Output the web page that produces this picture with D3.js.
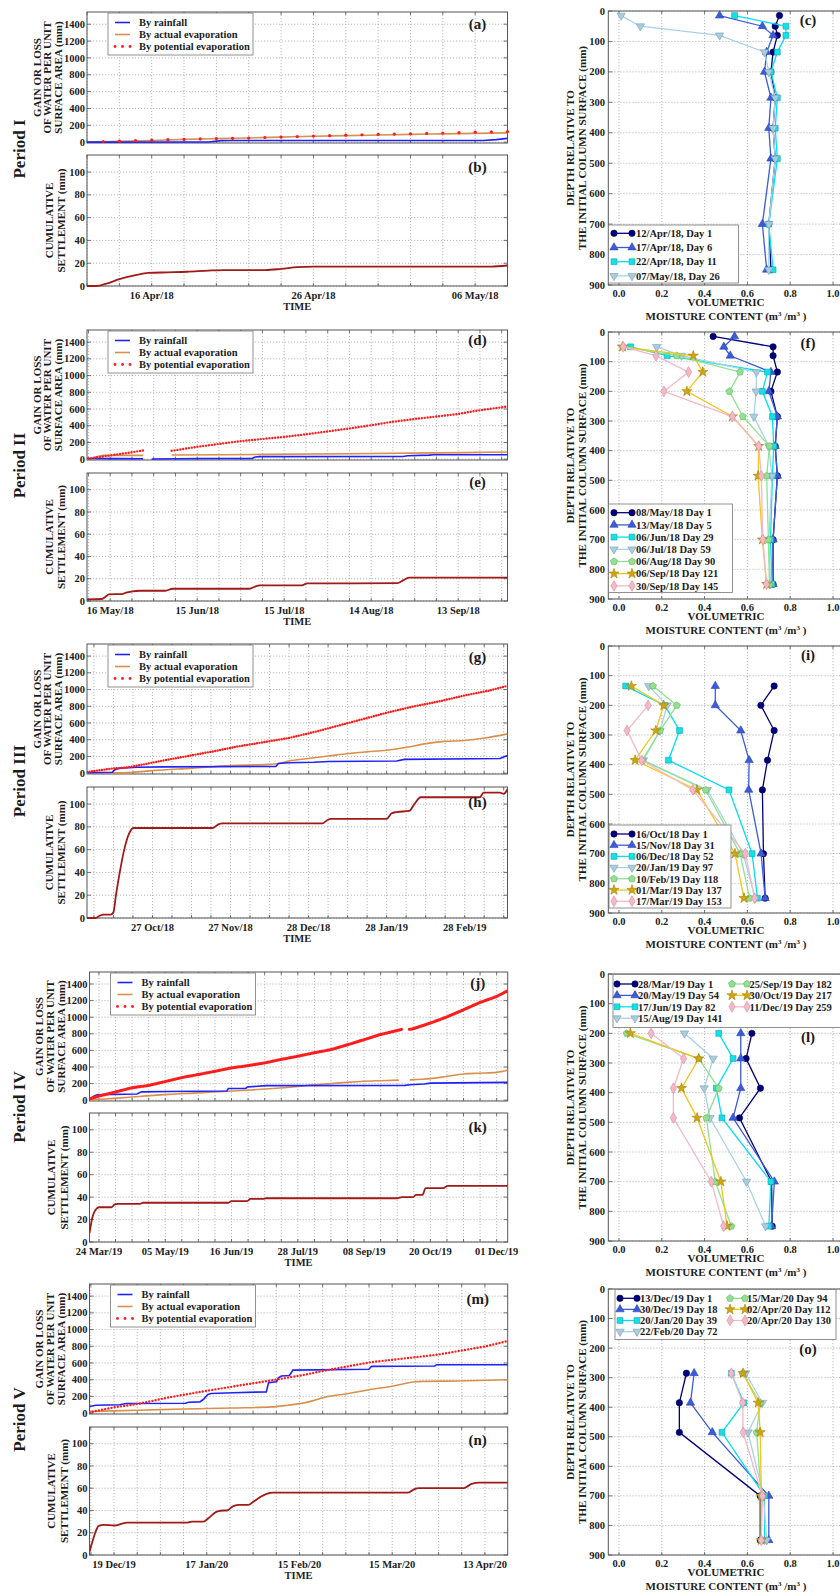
<!DOCTYPE html>
<html>
<head>
<meta charset="utf-8">
<script src="https://cdn.jsdelivr.net/npm/d3@7"></script>
<style>
  body { margin: 0; background: #fff; }
  text { font-family: "Liberation Serif", "Times New Roman", serif; font-weight: bold; fill: #1c1c1c; }
  .grid { stroke: #a8a8a8; stroke-width: 0.8; stroke-dasharray: 1.2 1.8; fill: none; }
  .frame { stroke: #555; stroke-width: 1; fill: none; }
  .tick { stroke: #555; stroke-width: 0.8; }
</style>
</head>
<body>
<svg id="fig" width="840" height="1595"></svg>
<script>
// ---------- Water balance & settlement: shared axes ----------
const gainDomain = [-10, 1545];
const gainTicks = [0, 200, 400, 600, 800, 1000, 1200, 1400];
const settleDomain = [0, 115];
const settleTicks = [0, 20, 40, 60, 80, 100];
const gainLegendLabels = ["By rainfall", "By actual evaporation", "By potential evaporation"];

// Series values are [day from start of window, mm]; null marks a gap in the record.
// ---------- Period I ----------
const p1Start = "2018-04-12", p1End = "2018-05-08";
const p1Ticks = ["2018-04-16", "2018-04-26", "2018-05-06"];
const p1TickLabels = ["16 Apr/18", "26 Apr/18", "06 May/18"];
const p1Rain = [[0,0],[7.5,2],[8.3,18],[9,20],[24.5,20],[25.3,30],[26,45]];
const p1Actual = [[0,0],[2,10],[4,20],[6,33],[8,42],[10,50],[12,60],[14,70],[16,78],[18,85],[20,92],[22,98],[24,104],[26,110]];
const p1Potential = [[1,8],[2,12],[3,18],[4,24],[5,30],[6,34],[7,38],[8,42],[9,45],[10,49],[11,55],[12,60],[13,66],[14,72],[15,77],[16,83],[17,88],[18,92],[19,96],[20,100],[21,104],[22,108],[23,113],[24,118],[25,122],[26,126]];
const p1Settle = [[0,0],[0.6,0],[1.2,2],[2,6],[3,9.5],[3.8,11.5],[5,12],[6.2,12.5],[7.5,13.5],[8.5,14],[11,14],[12,15],[13,16.5],[14,17],[25,17],[26,18]];

// ---------- Period II ----------
const p2Start = "2018-05-08", p2End = "2018-09-30";
const p2Ticks = ["2018-05-16", "2018-06-15", "2018-07-15", "2018-08-14", "2018-09-13"];
const p2TickLabels = ["16 May/18", "15 Jun/18", "15 Jul/18", "14 Aug/18", "13 Sep/18"];
const p2Rain = [[0,8],[10,6],[19.4,5],[20,null],[22.3,2],[40,8],[57,10],[58,25],[59.5,30],[109,32],[110.5,40],[118,48],[119.5,52],[145,52]];
const p2Actual = [[0,0],[2,15],[4,35],[6,45],[19.4,45],[20,null],[29.2,50],[60,57],[90,65],[120,75],[145,85]];
const p2Potential = [[0.5,8],[5,30],[10,55],[15,80],[19.4,105],[20,null],[29.2,100],[37.5,145],[45,180],[52.7,215],[60,240],[67.6,265],[75,295],[82.5,330],[90,365],[97.7,405],[105,445],[112.8,480],[120.4,510],[127.9,540],[135.4,585],[145,630]];
const p2Settle = [[0,1.5],[5,1.8],[6.5,4],[7.5,6],[12,6.2],[13.5,7.5],[15.5,8.5],[18,9.2],[27,9.2],[29.5,11],[56,11],[58,13],[59.5,14],[74,14],[76,15.8],[107,16],[109,18.5],[111,21],[145,21]];

// ---------- Period III ----------
const p3Start = "2018-10-01", p3End = "2019-03-17";
const p3Ticks = ["2018-10-27", "2018-11-27", "2018-12-28", "2019-01-28", "2019-02-28"];
const p3TickLabels = ["27 Oct/18", "27 Nov/18", "28 Dec/18", "28 Jan/19", "28 Feb/19"];
const p3Rain = [[0,5],[10,10],[11,40],[13,60],[20,70],[30,75],[75,80],[76,115],[80,125],[90,130],[96,140],[123,145],[126,165],[164,175],[167,210]];
const p3Actual = [[0,0],[10,3],[18,10],[26,30],[42,60],[57,90],[72,105],[76,115],[80,145],[88,175],[96,205],[104,235],[111,255],[119,275],[127,310],[134,350],[142,380],[150,390],[158,420],[167,470]];
const p3Potential = [[0,15],[5,35],[10,55],[15,65],[20,90],[30,150],[40,205],[50,260],[60,320],[70,370],[80,420],[90,490],[100,570],[110,650],[120,730],[130,800],[140,860],[150,930],[160,990],[167,1045]];
const p3Settle = [[0,0],[3.5,0],[5,2],[6.5,3],[9.5,3],[10.5,5],[11.5,20],[13,40],[15,62],[16.7,74],[18.4,79],[50,79],[52,82],[54,83],[93.5,83],[95.5,86],[97,87],[119,87],[121,92],[123,93],[128,94],[130,100],[132.5,106],[156,106],[157.5,110],[164,110],[165.5,109],[167,113]];

// ---------- Period IV ----------
const p4Start = "2019-03-18", p4End = "2019-12-08";
const p4Ticks = ["2019-03-24", "2019-05-05", "2019-06-16", "2019-07-28", "2019-09-08", "2019-10-20", "2019-12-01"];
const p4TickLabels = ["24 Mar/19", "05 May/19", "16 Jun/19", "28 Jul/19", "08 Sep/19", "20 Oct/19", "01 Dec/19"];
const p4Rain = [[0,15],[3,50],[5,65],[15,70],[30,75],[33,100],[50,105],[87,110],[88,140],[99,142],[100,158],[112,175],[200,178],[203,185],[212,195],[216,205],[265,215]];
const p4Actual = [[0,0],[10,15],[25,35],[38,55],[50,70],[69,88],[85,105],[100,120],[116,140],[132,165],[142,185],[153,200],[163,215],[174,228],[184,235],[196,242],[198,null],[203,245],[210,252],[216,260],[226,285],[237,315],[247,325],[258,335],[265,360]];
const p4Potential = [[0,15],[6,50],[16.6,100],[27,150],[38,180],[48,225],[59,275],[69,310],[80,350],[90,390],[100,415],[111,450],[121,490],[132,530],[142,570],[153,610],[163,665],[174,730],[184,790],[195,840],[198,855],[200,null],[202.7,855],[205,860],[216,930],[226,1000],[237,1090],[247,1175],[258,1250],[265,1320]];
const p4Settle = [[0,8],[0.5,12],[1.5,20],[2.5,25],[4,29],[6,31],[14,31],[16,33.5],[18,34],[32,34],[34,35],[88,35],[90,36.5],[100,36.5],[102,38.5],[110,38.5],[112,39],[195,39],[198,40],[205,40],[207,42],[211,42],[213,48],[224,48],[227,50],[265,50]];

// ---------- Period V ----------
const p5Start = "2019-12-11T08:00", p5End = "2020-04-20T03:00";
const p5Ticks = ["2019-12-19", "2020-01-17", "2020-02-15", "2020-03-15", "2020-04-13"];
const p5TickLabels = ["19 Dec/19", "17 Jan/20", "15 Feb/20", "15 Mar/20", "13 Apr/20"];
const p5Rain = [[0,80],[2,95],[9.5,100],[11.5,115],[30,118],[31,130],[34.5,135],[35.5,160],[37,225],[38,235],[45,245],[55.3,255],[56,365],[58.5,375],[59,420],[60,445],[62.5,450],[63.2,490],[63.6,515],[87.4,525],[88.2,560],[108,565],[108.6,580],[131,580]];
const p5Actual = [[0,20],[15,35],[30,50],[45,62],[57,75],[62,95],[66,115],[70,150],[73,185],[80,230],[87.5,280],[95,325],[102,375],[104,380],[115,385],[131,400]];
const p5Potential = [[0,10],[7.7,70],[15,110],[25,190],[37,270],[50,350],[66,450],[73,505],[88,610],[95,640],[109,700],[124,800],[131,865]];
const p5Settle = [[0,3],[0.7,10],[1.8,20],[2.8,26],[4.4,27],[7.8,26.5],[10,28],[11.7,29],[30.4,29],[32,30],[35.6,30],[37.2,33],[39.8,39],[42,40],[43,40],[45,44],[47,45],[49.7,45],[51.3,48],[53.4,52],[55.4,55],[57.5,56],[99.5,56],[101.5,59],[103,60],[117,60],[119.5,64],[122,65],[131,65]];

// ---------- Moisture profiles ----------
const moistDomain = [-0.05, 1.05];
const moistTicks = [0, 0.2, 0.4, 0.6, 0.8, 1.0];
const depthDomain = [0, 900];
const depthTicks = [0, 100, 200, 300, 400, 500, 600, 700, 800, 900];

const cDepths = [15, 50, 80, 135, 200, 285, 385, 485, 700, 850];
const cLabels = ["12/Apr/18, Day 1", "17/Apr/18, Day 6", "22/Apr/18, Day 11", "07/May/18, Day 26"];
const c1 = [0.75, 0.73, 0.74, 0.72, 0.71, 0.73, 0.72, 0.73, 0.70, 0.71];
const c2 = [0.47, 0.67, 0.72, 0.69, 0.68, 0.71, 0.70, 0.71, 0.67, 0.69];
const c3 = [0.54, 0.78, 0.78, 0.74, 0.71, 0.74, 0.73, 0.74, 0.70, 0.72];
const c4 = [0.01, 0.10, 0.47, 0.68, 0.70, 0.73, 0.72, 0.73, 0.70, 0.70];

const fDepths = [15, 50, 80, 135, 200, 285, 385, 485, 700, 850];
const fLabels = ["08/May/18 Day 1", "13/May/18 Day 5", "06/Jun/18 Day 29", "06/Jul/18 Day 59", "06/Aug/18 Day 90", "06/Sep/18 Day 121", "30/Sep/18 Day 145"];
const f1 = [0.44, 0.72, 0.72, 0.74, 0.71, 0.74, 0.73, 0.74, 0.72, 0.72];
const f2 = [0.54, 0.49, 0.52, 0.71, 0.70, 0.74, 0.73, 0.74, 0.72, 0.72];
const f3 = [null, 0.054, 0.225, 0.694, 0.67, 0.717, 0.723, 0.717, 0.708, 0.715];
const f4 = [null, 0.176, 0.292, 0.642, 0.641, 0.63, 0.70, 0.715, 0.70, 0.708];
const f5 = [null, 0.02, 0.27, 0.566, 0.516, 0.579, 0.703, 0.69, 0.698, 0.703];
const f6 = [null, 0.016, 0.347, 0.392, 0.317, 0.53, 0.653, 0.65, 0.67, 0.69];
const f7 = [null, 0.02, 0.173, 0.325, 0.21, 0.53, 0.653, 0.665, 0.672, 0.689];

const iDepths = [135, 200, 285, 385, 485, 700, 850];
const iLabels = ["16/Oct/18 Day 1", "15/Nov/18 Day 31", "06/Dec/18 Day 52", "20/Jan/19 Day 97", "10/Feb/19 Day 118", "01/Mar/19 Day 137", "17/Mar/19 Day 153"];
const i1 = [0.725, 0.663, 0.725, 0.694, 0.67, 0.675, 0.683];
const i2 = [0.45, 0.45, 0.569, 0.608, 0.606, 0.664, 0.683];
const i3 = [0.031, 0.214, 0.283, 0.231, 0.514, 0.622, 0.647];
const i4 = [0.139, 0.225, 0.192, 0.114, 0.413, 0.58, 0.636];
const i5 = [0.159, 0.27, 0.192, 0.109, 0.405, 0.566, 0.61];
const i6 = [0.058, 0.209, 0.172, 0.075, 0.364, 0.542, 0.584];
const i7 = [null, 0.136, 0.0375, 0.106, 0.345, 0.59, 0.634];

const lDepths = [200, 285, 385, 485, 700, 850];
const lLabels = ["28/Mar/19 Day 1", "20/May/19 Day 54", "17/Jun/19 Day 82", "15/Aug/19 Day 141", "25/Sep/19 Day 182", "30/Oct/19 Day 217", "11/Dec/19 Day 259"];
const l1 = [0.621, 0.594, 0.661, 0.563, 0.713, 0.716];
const l2 = [0.569, 0.569, 0.569, 0.533, 0.726, 0.713];
const l3 = [0.466, 0.533, 0.455, 0.481, 0.71, 0.70];
const l4 = [0.306, 0.44, 0.398, 0.425, 0.596, 0.685];
const l5 = [0.036, 0.373, 0.466, 0.408, 0.45, 0.525];
const l6 = [0.053, 0.373, 0.292, 0.365, 0.476, 0.505];
const l7 = [0.15, 0.302, 0.254, 0.254, 0.431, 0.489];

const oDepths = [285, 385, 485, 700, 850];
const oLabels = ["13/Dec/19 Day 1", "30/Dec/19 Day 18", "20/Jan/20 Day 39", "22/Feb/20 Day 72", "15/Mar/20 Day 94", "02/Apr/20 Day 112", "20/Apr/20 Day 130"];
const o1 = [0.315, 0.282, 0.282, 0.66, 0.66];
const o2 = [0.351, 0.334, 0.436, 0.70, 0.70];
const o3 = [0.525, 0.583, 0.481, 0.68, 0.68];
const o4 = [0.592, 0.67, 0.603, 0.675, 0.69];
const o5 = [0.577, 0.66, 0.643, 0.665, 0.665];
const o6 = [0.58, 0.65, 0.66, 0.665, 0.665];
const o7 = [0.525, 0.578, 0.58, 0.67, 0.665];

// ---------- Styling ----------
const rainColor = "#1f22ff", actualColor = "#d8904c", potColor = "#ff1c1c", settleColor = "#a01a1a";
const moistLine  = ["#00007a", "#3b5bd9", "#00e0ee", "#a7d3e6", "#8fe38f", "#f3c51a", "#f5b8c6"];
const moistFill  = ["#00007a", "#3b5bd9", "#14e0e6", "#a9cde0", "#92e092", "#cfa514", "#f5b8c6"];
const moistEdge  = ["#00005a", "#2c47b0", "#0aa8b5", "#7a9fb0", "#5fb35f", "#a88300", "#d0909f"];

const DAY = 864e5;
const dt = s => new Date(s.length === 10 ? s + "T00:00Z" : s + "Z");
const svg = d3.select("#fig");

// Figure layout: one row per period (left: time series, right: profiles)
const periods = [
  { name: "Period I",   start: p1Start, end: p1End, ticks: p1Ticks, tickLabels: p1TickLabels, gridDays: 2,
    rain: p1Rain, actual: p1Actual, potential: p1Potential, settle: p1Settle, letters: ["(a)", "(b)"], potDots: true,
    gTop: 12, gBot: 143, sTop: 155, sBot: 286, left: 87, right: 507.5, letterDy: [12, 12] },
  { name: "Period II",  start: p2Start, end: p2End, ticks: p2Ticks, tickLabels: p2TickLabels, gridDays: 7.5,
    rain: p2Rain, actual: p2Actual, potential: p2Potential, settle: p2Settle, letters: ["(d)", "(e)"], potGap: 2.9, potWidth: 2.4,
    gTop: 330, gBot: 460, sTop: 473, sBot: 601, left: 87, right: 507.5, letterDy: [10, 9] },
  { name: "Period III", start: p3Start, end: p3End, ticks: p3Ticks, tickLabels: p3TickLabels, gridDays: 7.75,
    rain: p3Rain, actual: p3Actual, potential: p3Potential, settle: p3Settle, letters: ["(g)", "(h)"], potGap: 2.5, potWidth: 2.4,
    gTop: 644, gBot: 774, sTop: 787, sBot: 918, left: 87, right: 507.5, letterDy: [13, 15] },
  { name: "Period IV",  start: p4Start, end: p4End, ticks: p4Ticks, tickLabels: p4TickLabels, gridDays: 10.5,
    rain: p4Rain, actual: p4Actual, potential: p4Potential, settle: p4Settle, letters: ["(j)", "(k)"], potGap: 1.6, potWidth: 3.2,
    gTop: 972, gBot: 1101, sTop: 1113, sBot: 1242, left: 89.5, right: 507.7, letterDy: [11, 14] },
  { name: "Period V",   start: p5Start, end: p5End, ticks: p5Ticks, tickLabels: p5TickLabels, gridDays: 7.25,
    rain: p5Rain, actual: p5Actual, potential: p5Potential, settle: p5Settle, letters: ["(m)", "(n)"], potGap: 3.2, potWidth: 2.4,
    gTop: 1284, gBot: 1414, sTop: 1427, sBot: 1555, left: 89.5, right: 507.7, letterDy: [15, 13] }
];

const profiles = [
  { depths: cDepths, series: [c1, c2, c3, c4], labels: cLabels, letter: "(c)", top: 11, bot: 285, letterY: 25,
    legend: { x: 608.5, y: 225, w: 130, h: 58, row0: 233.3, dy: 14.2, cols: [{ sx: 614, ex: 632, tx: 636, from: 0, to: 4 }] } },
  { depths: fDepths, series: [f1, f2, f3, f4, f5, f6, f7], labels: fLabels, letter: "(f)", top: 332, bot: 599, letterY: 348,
    legend: { x: 608.5, y: 504, w: 124, h: 88.5, row0: 512.7, dy: 12.2, cols: [{ sx: 614, ex: 632, tx: 636, from: 0, to: 7 }] } },
  { depths: iDepths, series: [i1, i2, i3, i4, i5, i6, i7], labels: iLabels, letter: "(i)", top: 646, bot: 913, letterY: 660,
    legend: { x: 609, y: 825, w: 122, h: 83, row0: 834, dy: 11.2, cols: [{ sx: 614, ex: 632, tx: 636, from: 0, to: 7 }] } },
  { depths: lDepths, series: [l1, l2, l3, l4, l5, l6, l7], labels: lLabels, letter: "(l)", top: 974, bot: 1241, letterY: 1042,
    legend: { x: 613, y: 974.5, w: 240, h: 53, row0: 984, dy: 11.4, cols: [{ sx: 617, ex: 635, tx: 638, from: 0, to: 4 }, { sx: 732, ex: 747, tx: 749.5, from: 4, to: 7 }] } },
  { depths: oDepths, series: [o1, o2, o3, o4, o5, o6, o7], labels: oLabels, letter: "(o)", top: 1289, bot: 1555, letterY: 1354,
    legend: { x: 615, y: 1289.5, w: 221, h: 50, row0: 1298.3, dy: 11.1, cols: [{ sx: 620, ex: 637, tx: 640, from: 0, to: 4 }, { sx: 730, ex: 745, tx: 747, from: 4, to: 7 }] } }
];

// ---------- helpers ----------
function label(g, x, y, txt, size, anchor = "middle", rotate = false) {
  const t = g.append("text").attr("font-size", size).attr("text-anchor", anchor);
  if (rotate) t.attr("transform", `translate(${x},${y}) rotate(-90)`).attr("dy", "0.35em");
  else t.attr("x", x).attr("y", y);
  return t.text(txt);
}

function gridDates(P) {
  const s = +dt(P.start), e = +dt(P.end), step = P.gridDays * DAY;
  let t = +dt(P.ticks[0]);
  while (t - step >= s - 1) t -= step;
  const out = [];
  for (; t <= e + 1; t += step) out.push(new Date(t));
  return out;
}

let clipN = 0;
function clipRect(x0, y0, x1, y1) {
  const id = "clip" + (clipN++);
  svg.append("clipPath").attr("id", id).append("rect")
    .attr("x", x0).attr("y", y0).attr("width", x1 - x0).attr("height", y1 - y0);
  return `url(#${id})`;
}

// Box with dotted grid and inward ticks
function frame(g, x0, x1, y0, y1, xs, ys, xGrid, yGrid) {
  g.append("g").selectAll("line").data(xGrid).join("line").attr("class", "grid")
    .attr("x1", d => xs(d)).attr("x2", d => xs(d)).attr("y1", y0).attr("y2", y1);
  g.append("g").selectAll("line").data(yGrid).join("line").attr("class", "grid")
    .attr("x1", x0).attr("x2", x1).attr("y1", d => ys(d)).attr("y2", d => ys(d));
  const tk = g.append("g");
  xGrid.forEach(d => {
    tk.append("line").attr("class", "tick").attr("x1", xs(d)).attr("x2", xs(d)).attr("y1", y1).attr("y2", y1 - 3);
    tk.append("line").attr("class", "tick").attr("x1", xs(d)).attr("x2", xs(d)).attr("y1", y0).attr("y2", y0 + 3);
  });
  yGrid.forEach(d => {
    tk.append("line").attr("class", "tick").attr("x1", x0).attr("x2", x0 + 4).attr("y1", ys(d)).attr("y2", ys(d));
    tk.append("line").attr("class", "tick").attr("x1", x1).attr("x2", x1 - 4).attr("y1", ys(d)).attr("y2", ys(d));
  });
  g.append("rect").attr("class", "frame").attr("x", x0).attr("y", y0).attr("width", x1 - x0).attr("height", y1 - y0);
}

// ---------- left column: water balance and settlement ----------
function drawPeriod(P) {
  const g = svg.append("g");
  const x = d3.scaleUtc().domain([dt(P.start), dt(P.end)]).range([P.left, P.right]);
  const at = d => new Date(+dt(P.start) + d * DAY);
  const grid = gridDates(P);
  const yG = d3.scaleLinear().domain(gainDomain).range([P.gBot, P.gTop]);
  const yS = d3.scaleLinear().domain(settleDomain).range([P.sBot, P.sTop]);

  frame(g, P.left, P.right, P.gTop, P.gBot, x, yG, grid, gainTicks);
  frame(g, P.left, P.right, P.sTop, P.sBot, x, yS, grid, settleTicks);

  const lineOf = (ys, curve) => d3.line().defined(d => d[1] !== null)
    .x(d => x(at(d[0]))).y(d => ys(d[1])).curve(curve);

  const gc = g.append("g").attr("clip-path", clipRect(P.left, P.gTop, P.right, P.gBot));
  gc.append("path").attr("d", lineOf(yG, d3.curveMonotoneX)(P.actual))
    .attr("fill", "none").attr("stroke", actualColor).attr("stroke-width", 1.6);
  gc.append("path").attr("d", lineOf(yG, d3.curveLinear)(P.rain))
    .attr("fill", "none").attr("stroke", rainColor).attr("stroke-width", 1.6);
  if (P.potDots) {
    g.append("g").selectAll("circle").data(P.potential).join("circle")
      .attr("cx", d => x(at(d[0]))).attr("cy", d => yG(d[1])).attr("r", 1.6).attr("fill", potColor);
  } else {
    gc.append("path").attr("d", lineOf(yG, d3.curveLinear)(P.potential))
      .attr("fill", "none").attr("stroke", potColor).attr("stroke-width", P.potWidth)
      .attr("stroke-linecap", "round").attr("stroke-dasharray", `0 ${P.potGap}`);
  }

  const sc = g.append("g").attr("clip-path", clipRect(P.left, P.sTop - 2, P.right, P.sBot + 1));
  sc.append("path").attr("d", lineOf(yS, d3.curveMonotoneX)(P.settle))
    .attr("fill", "none").attr("stroke", settleColor).attr("stroke-width", 1.8);

  // y tick labels
  gainTicks.forEach(v => label(g, P.left - 2, yG(v) + 3.6, String(v), 10.5, "end"));
  settleTicks.forEach(v => label(g, P.left - 2, yS(v) + 3.6, String(v), 10.5, "end"));
  // x tick labels
  P.ticks.forEach((d, k) => label(g, x(dt(d)), P.sBot + 12.5, P.tickLabels[k], 10.5));
  label(g, (P.left + P.right) / 2, P.sBot + 23.5, "TIME", 10.5);

  // y axis titles
  const gMid = (P.gTop + P.gBot) / 2, sMid = (P.sTop + P.sBot) / 2;
  ["GAIN OR LOSS", "OF WATER PER UNIT", "SURFACE AREA (mm)"].forEach((t, k) =>
    label(g, P.left - 50 + k * 10.6, gMid, t, 11, "middle", true));
  ["CUMULATIVE", "SETTLEMENT (mm)"].forEach((t, k) =>
    label(g, P.left - 38 + k * 12.5, sMid, t, 11, "middle", true));

  // period name
  label(g, 19, (P.gTop + P.sBot) / 2, P.name, 17, "middle", true);

  // panel letters
  label(g, P.right - 30, P.gTop + P.letterDy[0] + 5, P.letters[0], 15);
  label(g, P.right - 30, P.sTop + P.letterDy[1] + 5, P.letters[1], 15);

  // legend
  const lx = P.left + 21, ly = P.gTop + 1;
  const lg = g.append("g");
  lg.append("rect").attr("x", lx).attr("y", ly).attr("width", 145).attr("height", 42)
    .attr("fill", "#fff").attr("stroke", "#777").attr("stroke-width", 0.8);
  const rows = [ly + 9.5, ly + 21.5, ly + 33.5];
  lg.append("line").attr("x1", lx + 7).attr("x2", lx + 22).attr("y1", rows[0]).attr("y2", rows[0])
    .attr("stroke", rainColor).attr("stroke-width", 1.6);
  lg.append("line").attr("x1", lx + 7).attr("x2", lx + 22).attr("y1", rows[1]).attr("y2", rows[1])
    .attr("stroke", actualColor).attr("stroke-width", 1.6);
  [0, 7.5, 15].forEach(dx => lg.append("circle").attr("cx", lx + 7 + dx).attr("cy", rows[2]).attr("r", 1.4).attr("fill", potColor));
  gainLegendLabels.forEach((t, k) => label(lg, lx + 31, rows[k] + 3.6, t, 10.5, "start"));
}

// ---------- right column: moisture profiles ----------
const pentagon = {
  draw(ctx, size) {
    const r = Math.sqrt(size / 2.378);
    for (let k = 0; k < 5; k++) {
      const a = -Math.PI / 2 + k * 2 * Math.PI / 5;
      if (k) ctx.lineTo(r * Math.cos(a), r * Math.sin(a)); else ctx.moveTo(r * Math.cos(a), r * Math.sin(a));
    }
    ctx.closePath();
  }
};
const symbolTypes = [d3.symbolCircle, d3.symbolTriangle, d3.symbolSquare, d3.symbolTriangle, pentagon, d3.symbolStar, d3.symbolDiamond];
const symbolSizes = [32, 30, 34, 30, 32, 32, 34];
const markerPath = k => d3.symbol().type(symbolTypes[k]).size(symbolSizes[k])();
const markerRot = k => (k === 3 ? " rotate(180)" : "");

function marker(g, k, cx, cy) {
  g.append("path").attr("d", markerPath(k))
    .attr("transform", `translate(${cx},${cy})${markerRot(k)}`)
    .attr("fill", moistFill[k]).attr("stroke", moistEdge[k]).attr("stroke-width", 0.6);
}

function drawProfile(R) {
  const g = svg.append("g");
  const x = d3.scaleLinear().domain(moistDomain).range([608.3, 843.7]);
  const y = d3.scaleLinear().domain(depthDomain).range([R.top, R.bot]);
  frame(g, 608.3, 843.7, R.top, R.bot, x, y, moistTicks, depthTicks);

  R.series.forEach((vals, k) => {
    const pts = R.depths.map((d, j) => [vals[j], d]).filter(p => p[0] !== null);
    g.append("path").attr("d", d3.line().x(p => x(p[0])).y(p => y(p[1]))(pts))
      .attr("fill", "none").attr("stroke", moistLine[k]).attr("stroke-width", 1.3);
    pts.forEach(p => marker(g, k, x(p[0]), y(p[1])));
  });

  depthTicks.forEach(v => label(g, 605, y(v) + 3.6, String(v), 10.5, "end"));
  moistTicks.forEach(v => label(g, x(v), R.bot + 11.5, d3.format(".1f")(v), 10.5));
  label(g, x(0.5), R.bot + 21, "VOLUMETRIC", 11);
  const t = g.append("text").attr("x", x(0.5)).attr("y", R.bot + 35).attr("font-size", 11).attr("text-anchor", "middle");
  t.append("tspan").text("MOISTURE CONTENT (m");
  t.append("tspan").attr("font-size", 7).attr("dy", -4).text("3");
  t.append("tspan").attr("dy", 4).text(" /m");
  t.append("tspan").attr("font-size", 7).attr("dy", -4).text("3");
  t.append("tspan").attr("dy", 4).text(" )");

  const mid = (R.top + R.bot) / 2;
  label(g, 570, mid, "DEPTH RELATIVE TO", 11, "middle", true);
  label(g, 582, mid, "THE INITIAL COLUMN SURFACE (mm)", 11, "middle", true);
  label(g, 808, R.letterY, R.letter, 15);

  const L = R.legend;
  const lg = g.append("g");
  lg.append("rect").attr("x", L.x).attr("y", L.y).attr("width", L.w).attr("height", L.h)
    .attr("fill", "#fff").attr("stroke", "#777").attr("stroke-width", 0.8);
  L.cols.forEach(c => {
    for (let k = c.from; k < c.to; k++) {
      const ry = L.row0 + (k - c.from) * L.dy;
      lg.append("line").attr("x1", c.sx).attr("x2", c.ex).attr("y1", ry).attr("y2", ry)
        .attr("stroke", moistLine[k]).attr("stroke-width", 1.3);
      marker(lg, k, c.sx, ry);
      marker(lg, k, c.ex, ry);
      label(lg, c.tx, ry + 3.7, R.labels[k], 10.5, "start");
    }
  });
}

periods.forEach(drawPeriod);
profiles.forEach(drawProfile);
</script>
</body>
</html>
